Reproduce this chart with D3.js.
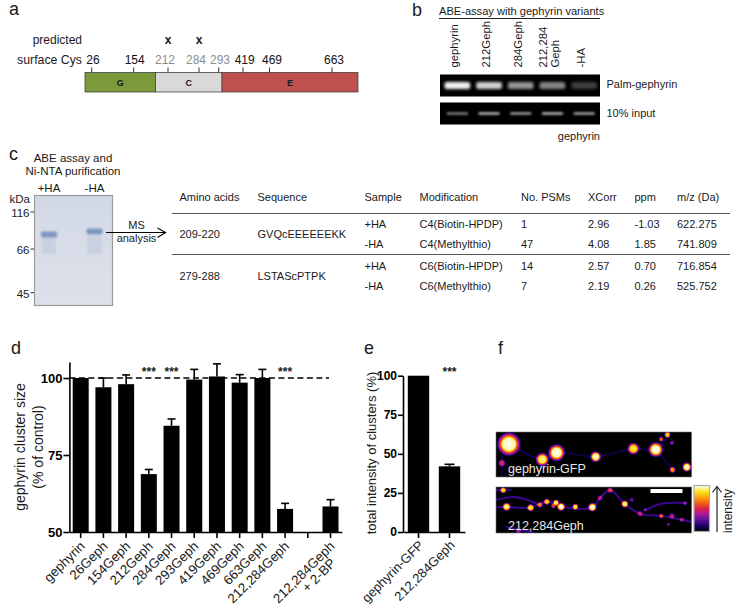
<!DOCTYPE html>
<html>
<head>
<meta charset="utf-8">
<script src="https://cdn.jsdelivr.net/npm/d3@7"></script>
<style>
html, body {margin: 0; padding: 0; background: #fff;}
svg {display: block;}
text {font-family: "Liberation Sans", Arial, sans-serif; fill: #1a1a1a;}
.axis path, .axis line {stroke: #000; stroke-width: 1.6px;}
.axis text {fill: #000; font-family: "Liberation Sans", Arial, sans-serif;}
</style>
</head>
<body>
<svg id="fig" width="742" height="611"></svg>
<script>
"use strict";

// panel a
var domainNames = ["G", "C", "E"];
var domainShares = [70.5, 66.5, 136];
var domainColors = ["#7a9a3c", "#d9d9d9", "#c0504d"];
var cysSites = [26, 154, 212, 284, 293, 419, 469, 663];
var cysGrey = [212, 284, 293];
var predictedSites = [212, 284];

// panel b
var laneNames = ["gephyrin", "212Geph", "284Geph", "212,284|Geph", "-HA"];
var palmBands = [0.95, 0.82, 0.58, 0.52, 0.24];
var inputBands = [0.5, 0.72, 0.62, 0.72, 0.66];

// panel c gel
var gelLanes = ["+HA", "-HA"];
var gelMarkers = [116, 66, 45];

// panel c table
var tableHeaders = ["Amino acids", "Sequence", "Sample", "Modification", "No. PSMs", "XCorr", "ppm", "m/z (Da)"];
var aminoAcids = ["209-220", "279-288"];
var sequences = ["GVQcEEEEEEKK", "LSTAScPTPK"];
var samples = ["+HA", "-HA", "+HA", "-HA"];
var modifications = ["C4(Biotin-HPDP)", "C4(Methylthio)", "C6(Biotin-HPDP)", "C6(Methylthio)"];
var psms = ["1", "47", "14", "7"];
var xcorr = ["2.96", "4.08", "2.57", "2.19"];
var ppm = ["-1.03", "1.85", "0.70", "0.26"];
var mz = ["622.275", "741.809", "716.854", "525.752"];

// panel d
var clusterNames = ["gephyrin", "26Geph", "154Geph", "212Geph", "284Geph", "293Geph", "419Geph", "469Geph", "663Geph", "212,284Geph", "", "212,284Geph|+ 2-BP"];
var clusterSize = [100, 97, 98, 68.8, 84.5, 99.5, 100.5, 98.5, 100, 57.5, null, 58.3];
var clusterErr = [0, 3, 3, 1.5, 2.2, 3.3, 4.1, 2.6, 2.8, 1.8, null, 2.2];
var clusterStars = ["212Geph", "284Geph", "212,284Geph"];

// panel e
var intensityNames = ["gephyrin-GFP", "212,284Geph"];
var intensityVals = [100, 42];
var intensityErr = [0, 1.3];

// panel f, [x, y, radius, brightness] in percent of the image
var topPuncta = [[6.6, 27, 4.4, 1], [31, 46, 3.1, 1], [23.7, 61, 2.4, 0.85], [51, 55, 1.9, 0.9], [70.3, 37, 2.1, 0.8],
    [81.7, 39, 2.7, 1], [97.6, 78, 1.6, 0.9], [90.3, 84, 1, 0.65], [87.7, 6, 1, 0.75], [84.5, 16, 0.7, 0.55], [3, 69, 1.2, 0.42], [90, 24, 0.7, 0.3]];
var topNeurites = [[[6.6, 27], [23.7, 61], [31, 46], [51, 55], [70.3, 37], [81.7, 39], [87.7, 6]], [[81.7, 39], [90.3, 84]], [[3, 50], [3, 100]]];
var bottomPuncta = [[3.7, 7, 1, 0.75], [5.4, 43, 1.4, 0.85], [17.7, 45, 1.2, 0.8], [22.5, 39, 0.9, 0.55], [26, 32, 1, 0.75], [30.7, 34, 1, 0.85],
    [33.3, 43, 1.4, 0.95], [29.3, 41, 0.7, 0.5], [40.6, 43, 1, 0.8], [49.3, 44, 1.5, 0.9], [65.9, 37, 1.2, 0.85], [58.4, 7, 0.9, 0.45], [53.2, 24, 0.9, 0.3],
    [73.7, 58, 0.9, 0.35], [84.5, 63, 0.7, 0.5], [90, 63, 0.9, 0.35], [95, 71, 0.7, 0.3], [96.8, 35, 0.7, 0.25], [76.3, 50, 0.5, 0.3], [69.4, 28, 0.7, 0.25], [88.2, 81, 0.5, 0.25], [11.4, 96, 0.9, 0.3]];
var bottomNeurites = [[[0, 44], [5.4, 43], [17.7, 45], [26, 32], [33.3, 43], [49.3, 44], [53.2, 24], [58.4, 7], [65.9, 37], [73.7, 58], [84.5, 63], [95, 71], [100, 76]],
    [[0, 28], [10, 22], [22.5, 39]], [[0, 7], [8, 6]], [[5, 87], [19, 98]], [[76.3, 50], [85, 36], [96.8, 35]]];
var fireStops = ["#000000", "#1a0066", "#5a0f9c", "#a8189b", "#e0204a", "#f5610f", "#fba90c", "#fde725", "#ffffff"];

var svg = d3.select("#fig");
var defs = svg.append("defs");

function label(g, x, y, str, size, anchor, fill) {
    return g.append("text")
        .attr("x", x)
        .attr("y", y)
        .attr("font-size", size)
        .attr("text-anchor", anchor || "start")
        .style("fill", fill || null)
        .text(str);
}

function rotatedLabel(g, x, y, str, size, anchor, angle) {
    return g.append("text")
        .attr("transform", "translate(" + x + "," + y + ") rotate(" + angle + ")")
        .attr("font-size", size)
        .attr("text-anchor", anchor || "middle")
        .text(str);
}

function addBlur(id, dev) {
    defs.append("filter")
        .attr("id", id)
        .attr("x", "-50%").attr("y", "-100%")
        .attr("width", "200%").attr("height", "300%")
        .append("feGaussianBlur").attr("stdDeviation", dev);
}
addBlur("blurBand", 1.6);
addBlur("blurThin", 0.9);

// panel letters
label(svg, 9, 15, "a", 18);
label(svg, 412, 16, "b", 18);
label(svg, 9, 160, "c", 18);
label(svg, 11, 354, "d", 18);
label(svg, 364, 354, "e", 18);
label(svg, 498, 354, "f", 18);

// ---- a: domain bar
var panelA = svg.append("g");
var barTop = 72.5, barBottom = 92;
var shareSum = d3.cumsum(domainShares);
var barX = d3.scaleLinear().domain([0, d3.sum(domainShares)]).range([85, 358]);
panelA.selectAll("rect").data(domainNames).enter().append("rect")
    .attr("x", function(d, i) {return barX(i === 0 ? 0 : shareSum[i-1]);})
    .attr("y", barTop)
    .attr("width", function(d, i) {return barX(domainShares[i]) - barX(0);})
    .attr("height", barBottom - barTop)
    .attr("fill", function(d, i) {return domainColors[i];})
    .attr("stroke", "#444")
    .attr("stroke-width", 0.8);
domainNames.forEach(function(d, i) {
    var mid = (i === 0 ? 0 : shareSum[i-1]) + domainShares[i]/2;
    label(panelA, barX(mid), 86, d, 9, "middle").attr("font-weight", "bold");
});
// residues are not drawn to scale on this schematic
var siteX = d3.scaleLinear().domain(cysSites).range([91.7, 133.7, 168, 199, 218.7, 243, 269.5, 332]);
var siteLabelX = d3.scaleLinear().domain(cysSites).range([93, 134.7, 165, 196, 220, 244.7, 272, 334]);
panelA.selectAll("line").data(cysSites).enter().append("line")
    .attr("x1", siteX).attr("x2", siteX)
    .attr("y1", 67.5).attr("y2", barTop)
    .attr("stroke", "#333");
cysSites.forEach(function(d) {
    var grey = cysGrey.indexOf(d) >= 0;
    label(panelA, siteLabelX(d), 64, d, 12, "middle", grey ? "#8c8c8c" : "#111");
});
predictedSites.forEach(function(d) {
    label(panelA, siteX(d), 44, "x", 12, "middle").attr("font-weight", "bold");
});
label(panelA, 82, 44, "predicted", 12, "end");
label(panelA, 82, 64, "surface Cys", 12.3, "end");

// ---- b: blots
var panelB = svg.append("g");
label(panelB, 439, 15, "ABE-assay with gephyrin variants", 11.1);
panelB.append("line").attr("x1", 439).attr("x2", 600).attr("y1", 18.5).attr("y2", 18.5).attr("stroke", "#222");
var laneX = d3.scaleBand().domain(laneNames).range([441.5, 600]);

laneNames.forEach(function(d) {
    var c = laneX(d) + laneX.bandwidth()/2;
    var parts = d.split("|");
    if (parts.length === 2) {
        rotatedLabel(panelB, c - 5, 67.5, parts[0], 11.3, "start", -90);
        rotatedLabel(panelB, c + 7, 67.5, parts[1], 11.3, "start", -90);
    } else {
        rotatedLabel(panelB, c + 1, 67.5, d, 11.3, "start", -90);
    }
});

function drawBlot(name, y0, y1, values, bandH, inset, filter) {
    panelB.append("rect").attr("x", 440).attr("y", y0).attr("width", 160).attr("height", y1 - y0).attr("fill", "#000");
    var yMid = (y0 + y1)/2;
    panelB.selectAll("." + name).data(values).enter().append("rect")
        .attr("class", name)
        .attr("x", function(d, i) {return laneX(laneNames[i]) + inset;})
        .attr("y", yMid - bandH/2)
        .attr("width", laneX.bandwidth() - 2*inset)
        .attr("height", bandH)
        .attr("rx", 2)
        .attr("fill", "#fff")
        .attr("opacity", function(d) {return d;})
        .attr("filter", filter);
}
drawBlot("palm", 74.5, 96.5, palmBands, 7, 3, "url(#blurBand)");
drawBlot("input", 102.5, 124.5, inputBands, 2.4, 5, "url(#blurThin)");
label(panelB, 606.5, 88, "Palm-gephyrin", 11);
label(panelB, 606.5, 117, "10% input", 11);
label(panelB, 600, 139.5, "gephyrin", 11, "end");

// ---- c: gel
var panelC = svg.append("g");
label(panelC, 73, 162, "ABE assay and", 11.5, "middle");
label(panelC, 73, 175, "Ni-NTA purification", 11.5, "middle");
var gelX = d3.scalePoint().domain(gelLanes).range([49, 94.5]);
gelLanes.forEach(function(d) {
    label(panelC, gelX(d), 192, d, 11.5, "middle");
});
var gelGrad = defs.append("linearGradient").attr("id", "gelBg").attr("x1", 0).attr("y1", 0).attr("x2", 0).attr("y2", 1);
gelGrad.append("stop").attr("offset", 0).attr("stop-color", "#d2d8e6");
gelGrad.append("stop").attr("offset", 1).attr("stop-color", "#dde1ea");
panelC.append("rect").attr("x", 34.5).attr("y", 195.5).attr("width", 78).attr("height", 110)
    .attr("fill", "url(#gelBg)").attr("stroke", "#9b9b9b").attr("stroke-width", 1.2);
// faint smear under each band
panelC.selectAll(".gelsmear").data(gelLanes).enter().append("rect")
    .attr("class", "gelsmear")
    .attr("x", function(d) {return gelX(d) - 7;})
    .attr("y", 236)
    .attr("width", 14)
    .attr("height", 18)
    .attr("fill", "#c8d0e2")
    .attr("filter", "url(#blurThin)");
panelC.selectAll(".gelband").data(gelLanes).enter().append("rect")
    .attr("class", "gelband")
    .attr("x", function(d) {return gelX(d) - 8;})
    .attr("y", function(d) {return d === "+HA" ? 231.5 : 228.5;})
    .attr("width", 16)
    .attr("height", 6)
    .attr("rx", 2)
    .attr("fill", "#7d96bf")
    .attr("filter", "url(#blurThin)");
var kdaY = d3.scaleLinear().domain(gelMarkers).range([212, 249, 292.7]);
label(panelC, 30, 203, "kDa", 11.5, "end");
gelMarkers.forEach(function(d) {
    label(panelC, 29.5, kdaY(d) + 5, d, 11.5, "end");
    panelC.append("line").attr("x1", 30.5).attr("x2", 34).attr("y1", kdaY(d)).attr("y2", kdaY(d)).attr("stroke", "#333");
});
panelC.append("line").attr("x1", 106).attr("x2", 165).attr("y1", 232.5).attr("y2", 232.5).attr("stroke", "#000").attr("stroke-width", 1.1);
panelC.append("path").attr("d", "M157.5,228L165.5,232.5L157.5,237.5").attr("fill", "none").attr("stroke", "#000").attr("stroke-width", 1.1);
label(panelC, 136.5, 229, "MS", 11, "middle");
label(panelC, 136.5, 242, "analysis", 11, "middle");

// ---- c: table
var panelT = svg.append("g");
var colX = [179.5, 257.5, 364.5, 419.5, 521, 588, 634.5, 677];
var rowY = [200.7, 227.7, 248.3, 270, 290];
var groupY = [238, 280];
tableHeaders.forEach(function(d, i) {
    label(panelT, colX[i], rowY[0], d, 11);
});
[samples, modifications, psms, xcorr, ppm, mz].forEach(function(col, c) {
    col.forEach(function(d, r) {
        label(panelT, colX[c + 2], rowY[r + 1], d, 11);
    });
});
aminoAcids.forEach(function(d, i) {
    label(panelT, colX[0], groupY[i], d, 11);
    label(panelT, colX[1], groupY[i], sequences[i], 11);
});
panelT.append("line").attr("x1", 172).attr("x2", 730).attr("y1", 213.5).attr("y2", 213.5).attr("stroke", "#555").attr("stroke-width", 1.1);
panelT.append("line").attr("x1", 172).attr("x2", 730).attr("y1", 254.5).attr("y2", 254.5).attr("stroke", "#555").attr("stroke-width", 1.1);

// ---- d: cluster size
var panelD = svg.append("g");
var dBottom = 532;
var dX = d3.scaleBand().domain(d3.range(clusterNames.length)).range([69.4, 341.8]).paddingInner(0.295).paddingOuter(0.145);
var dY = d3.scaleLinear().domain([50, 105.2]).range([dBottom, 362]);

function errorBars(g, xs, yScale, values, errs, w) {
    values.forEach(function(v, i) {
        if (v === null || !errs[i]) {return;}
        var c = xs(i) + xs.bandwidth()/2;
        g.append("line").attr("x1", c).attr("x2", c).attr("y1", yScale(v)).attr("y2", yScale(v + errs[i])).attr("stroke", "#000").attr("stroke-width", 1.6);
        g.append("line").attr("x1", c - w).attr("x2", c + w).attr("y1", yScale(v + errs[i])).attr("y2", yScale(v + errs[i])).attr("stroke", "#000").attr("stroke-width", 1.6);
    });
}

panelD.selectAll("rect").data(d3.range(clusterSize.length).filter(function(i) {return clusterSize[i] !== null;})).enter().append("rect")
    .attr("x", function(i) {return dX(i);})
    .attr("y", function(i) {return dY(clusterSize[i]);})
    .attr("width", dX.bandwidth())
    .attr("height", function(i) {return dBottom - dY(clusterSize[i]);})
    .attr("fill", "#000");
errorBars(panelD, dX, dY, clusterSize, clusterErr, 4);
panelD.append("line").attr("x1", dX.range()[0]).attr("x2", 329)
    .attr("y1", dY(100)).attr("y2", dY(100))
    .attr("stroke", "#000").attr("stroke-width", 1.6).attr("stroke-dasharray", "6,3.5");
clusterStars.forEach(function(d) {
    label(panelD, dX(clusterNames.indexOf(d)) + dX.bandwidth()/2, 376, "***", 12, "middle").attr("font-weight", "bold");
});

panelD.append("g").attr("class", "axis")
    .attr("transform", "translate(0," + dBottom + ")")
    .call(d3.axisBottom(dX).tickSize(6).tickSizeOuter(0).tickFormat(""));
var dAxisY = panelD.append("g").attr("class", "axis")
    .attr("transform", "translate(" + dX.range()[0] + ",0)")
    .call(d3.axisLeft(dY).tickValues([50, 75, 100]).tickSize(6).tickSizeOuter(0));
dAxisY.selectAll("text").attr("x", -7).attr("font-size", 13).attr("font-weight", "bold");

clusterNames.forEach(function(d, i) {
    var c = dX(i) + dX.bandwidth()/2;
    var parts = d.split("|");
    if (parts.length === 2) {
        rotatedLabel(panelD, c + 5, 547, parts[0], 13.3, "end", -45);
        rotatedLabel(panelD, c + 6, 564, parts[1], 13.3, "end", -45);
    } else if (d !== "") {
        rotatedLabel(panelD, c + 5, 547, d, 13.3, "end", -45);
    }
});
rotatedLabel(panelD, 25, 447, "gephyrin cluster size", 14, "middle", -90);
rotatedLabel(panelD, 43, 447, "(% of control)", 14, "middle", -90);

// ---- e: total intensity
var panelE = svg.append("g");
var eX = d3.scaleBand().domain(d3.range(intensityNames.length)).range([403, 465]).paddingInner(0.31).paddingOuter(0.155);
var eY = d3.scaleLinear().domain([0, 100]).range([dBottom, 375.7]);
panelE.selectAll("rect").data(intensityVals).enter().append("rect")
    .attr("x", function(d, i) {return eX(i);})
    .attr("y", function(d) {return eY(d);})
    .attr("width", eX.bandwidth())
    .attr("height", function(d) {return dBottom - eY(d);})
    .attr("fill", "#000");
errorBars(panelE, eX, eY, intensityVals, intensityErr, 5);
panelE.append("g").attr("class", "axis")
    .attr("transform", "translate(0," + dBottom + ")")
    .call(d3.axisBottom(eX).tickSize(6).tickSizeOuter(0).tickFormat(""));
var eAxisY = panelE.append("g").attr("class", "axis")
    .attr("transform", "translate(403,0)")
    .call(d3.axisLeft(eY).tickValues([0, 25, 50, 75, 100]).tickSize(5).tickSizeOuter(0));
eAxisY.selectAll("text").attr("x", -6).attr("font-size", 12).attr("font-weight", "bold");
intensityNames.forEach(function(d, i) {
    rotatedLabel(panelE, eX(i) + eX.bandwidth()/2 + 6, 546, d, 13, "end", -45);
});
label(panelE, eX(1) + eX.bandwidth()/2, 376, "***", 12, "middle").attr("font-weight", "bold");
rotatedLabel(panelE, 376, 453, "total intensity of clusters (%)", 13, "middle", -90);

// ---- f: fire LUT images
var fire = defs.append("filter").attr("id", "fire")
    .attr("filterUnits", "userSpaceOnUse")
    .attr("x", 490).attr("y", 425).attr("width", 210).attr("height", 115)
    .attr("color-interpolation-filters", "sRGB");
fire.append("feGaussianBlur").attr("stdDeviation", 0.7);
fire.append("feColorMatrix").attr("type", "matrix")
    .attr("values", "0 0 0 1 0  0 0 0 1 0  0 0 0 1 0  0 0 0 0 1");
var transfer = fire.append("feComponentTransfer");
var fireRgb = fireStops.map(function(c) {return d3.rgb(c);});
[["feFuncR", "r"], ["feFuncG", "g"], ["feFuncB", "b"]].forEach(function(p) {
    transfer.append(p[0]).attr("type", "table")
        .attr("tableValues", fireRgb.map(function(c) {return (c[p[1]]/255).toFixed(3);}).join(" "));
});

var blobGrad = defs.append("radialGradient").attr("id", "blob");
[[0, 1], [0.5, 0.95], [0.75, 0.45], [1, 0]].forEach(function(s) {
    blobGrad.append("stop").attr("offset", s[0]).attr("stop-color", "#fff").attr("stop-opacity", s[1]);
});

var fireImgX = d3.scaleLinear().domain([0, 100]).range([496, 691.5]);
var line = d3.line().curve(d3.curveCatmullRom);

function drawFire(name, y0, y1, puncta, neurites, neuriteAlpha) {
    var yS = d3.scaleLinear().domain([0, 100]).range([y0, y1]);
    defs.append("clipPath").attr("id", "clip" + name).append("rect")
        .attr("x", 496).attr("y", y0).attr("width", 195.5).attr("height", y1 - y0);
    var holder = svg.append("g").attr("clip-path", "url(#clip" + name + ")");
    holder.append("rect").attr("x", 496).attr("y", y0).attr("width", 195.5).attr("height", y1 - y0).attr("fill", "#000");
    var g = holder.append("g").attr("filter", "url(#fire)");
    line.x(function(d) {return fireImgX(d[0]);}).y(function(d) {return yS(d[1]);});
    g.selectAll("path").data(neurites).enter().append("path")
        .attr("d", line)
        .attr("fill", "none")
        .attr("stroke", "#fff")
        .attr("stroke-opacity", neuriteAlpha)
        .attr("stroke-width", 2.2);
    g.selectAll("circle").data(puncta).enter().append("circle")
        .attr("cx", function(d) {return fireImgX(d[0]);})
        .attr("cy", function(d) {return yS(d[1]);})
        .attr("r", function(d) {return d[2]*1.35/100*195.5 + 0.8;})
        .attr("fill", "url(#blob)")
        .attr("opacity", function(d) {return Math.min(1, d[3]*1.1);});
    svg.append("rect").attr("x", 496).attr("y", y0).attr("width", 195.5).attr("height", y1 - y0)
        .attr("fill", "none").attr("stroke", "#777").attr("stroke-width", 0.6);
}
drawFire("top", 432, 477, topPuncta, topNeurites, 0.08);
drawFire("bottom", 487, 533, bottomPuncta, bottomNeurites, 0.19);

label(svg, 508, 473, "gephyrin-GFP", 12.5, "start", "#e8e8e8");
label(svg, 508, 529.5, "212,284Geph", 12.5, "start", "#e8e8e8");
svg.append("rect").attr("x", 650.5).attr("y", 489).attr("width", 32).attr("height", 4).attr("fill", "#fff");

// colour bar
var barGrad = defs.append("linearGradient").attr("id", "fireBar").attr("x1", 0).attr("y1", 1).attr("x2", 0).attr("y2", 0);
fireStops.forEach(function(c, i) {
    barGrad.append("stop").attr("offset", i/(fireStops.length - 1)).attr("stop-color", c);
});
svg.append("rect").attr("x", 694).attr("y", 485.5).attr("width", 15.5).attr("height", 46)
    .attr("fill", "url(#fireBar)").attr("stroke", "#aaa").attr("stroke-width", 1.2);
svg.append("line").attr("x1", 717).attr("x2", 717).attr("y1", 532).attr("y2", 487).attr("stroke", "#222").attr("stroke-width", 1.2);
svg.append("path").attr("d", "M712.5,492.5L717,486.5L721.5,492.5").attr("fill", "none").attr("stroke", "#222").attr("stroke-width", 1.2);
rotatedLabel(svg, 732, 511, "intensity", 12, "middle", -90);
</script>
</body>
</html>
